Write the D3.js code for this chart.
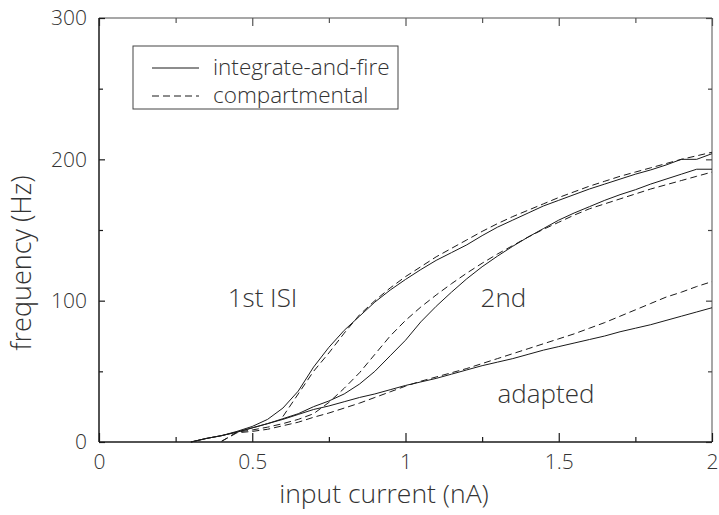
<!DOCTYPE html>
<html><head><meta charset="utf-8">
<script src="https://cdn.jsdelivr.net/npm/d3@7"></script>
<style>
html,body{margin:0;padding:0;background:#fff;}
svg{display:block;font-family:"Open Sans",Roboto,"Liberation Sans",sans-serif;font-weight:300;}
</style></head>
<body>
<svg id="chart" width="719" height="515"></svg>
<script>
// input current (nA)
const current = [0.3,0.35,0.4,0.45,0.5,0.55,0.6,0.65,0.7,0.75,0.8,0.85,0.9,0.95,1.0,1.05,1.1,1.15,1.2,1.25,1.3,1.35,1.4,1.45,1.5,1.55,1.6,1.65,1.7,1.75,1.8,1.85,1.9,1.95,2.0];
// integrate-and-fire model (solid)
const ifFirst   = [0,2.5,4.5,7.5,11,16,24,36,53,67,79,89,99,107.5,115,122,128.5,134,139.5,146,152,157,162,167,171,175,179,182.5,186,189.5,192.5,196,200,200,204];
const ifSecond  = [0,2.5,4.5,7,10,13,16.5,20,25,29,34,41,50,61,72,85,96,106,115.5,124,131.5,138.5,145,151,157,162,166.5,171,175,178.5,182.5,186,189.5,193,193];
const ifAdapted = [0,2.5,4.5,7,10,13,16,19.5,23,25.5,28.5,31.5,34,37,40,42.5,45,48,51,54,56.5,59,62,65,67.5,70,72.5,75,78,80.5,83,86,89,92,95];
// compartmental model (dashed)
const compFirst   = [null,null,null,null,null,null,18,34,50,63,77,90,100,109,117,124,131,137,143,149,154.5,159.5,164,168.5,173,177,181,184.5,188,191,194,197,200,202.5,205];
const compSecond  = [null,null,0.5,7,8.5,10.5,13,16,20,28,38,49,62,75,86,95.5,104,112,119.5,126.5,133,139,145,150.5,155.5,160.5,165,168.5,172,175.5,179,182,185,188,191];
const compAdapted = [null,null,0.5,6.5,7.5,9,11.5,14,17.5,20.5,24,27.5,31.5,35.5,39.5,43,46,49,52,55.5,59,62.5,66,69.5,73,76.5,80.5,84.5,89,93.5,98,102.5,106,110,113.5];

const xMajor = [0,0.5,1,1.5,2];
const xMinor = [0.25,0.75,1.25,1.75];
const yMajor = [0,100,200,300];
const yMinor = [50,150,250];
const legendLabels = ["integrate-and-fire","compartmental"];
const curveLabels = [
  {text:"1st ISI", x:0.42, y:95.5},
  {text:"2nd", x:1.245, y:95.5},
  {text:"adapted", x:1.3, y:27.5}
];

const svg = d3.select("#chart");
const x = d3.scaleLinear().domain([0,2]).range([99,712]);
const y = d3.scaleLinear().domain([0,300]).range([442,18]);
const ink = "#1a1a1a";
const txt = "#333";

// frame: top and right grey
svg.append("line").attr("x1",x(0)).attr("x2",x(2)).attr("y1",y(300)).attr("y2",y(300)).attr("stroke","#8a8a8a").attr("stroke-width",1.5);
svg.append("line").attr("x1",x(2)).attr("x2",x(2)).attr("y1",y(300)).attr("y2",y(0)).attr("stroke","#8a8a8a").attr("stroke-width",1.5);

function styleAxis(g, col){
  g.select(".domain").remove();
  g.selectAll(".tick line").attr("stroke",col).attr("stroke-width",1.2);
  g.selectAll(".tick text").attr("fill",txt).style("font-size","21px")
    .style("font-family","'Open Sans', Roboto, sans-serif").style("font-weight",300);
}

// bottom
svg.append("g").attr("transform",`translate(0,${y(0)})`)
  .call(d3.axisBottom(x).tickValues(xMajor).tickSize(-9).tickPadding(12).tickFormat(d=>d3.format("")(d)))
  .call(g=>styleAxis(g,ink));
svg.append("g").attr("transform",`translate(0,${y(0)})`)
  .call(d3.axisBottom(x).tickValues(xMinor).tickSize(-5).tickFormat(""))
  .call(g=>styleAxis(g,ink));
// top
svg.append("g").attr("transform",`translate(0,${y(300)})`)
  .call(d3.axisTop(x).tickValues(xMajor).tickSize(-8).tickFormat(""))
  .call(g=>styleAxis(g,"#555"));
svg.append("g").attr("transform",`translate(0,${y(300)})`)
  .call(d3.axisTop(x).tickValues(xMinor).tickSize(-5).tickFormat(""))
  .call(g=>styleAxis(g,"#555"));
// left
svg.append("g").attr("transform",`translate(${x(0)},0)`)
  .call(d3.axisLeft(y).tickValues(yMajor).tickSize(-6).tickPadding(12))
  .call(g=>styleAxis(g,ink));
svg.append("g").attr("transform",`translate(${x(0)},0)`)
  .call(d3.axisLeft(y).tickValues(yMinor).tickSize(-4).tickFormat(""))
  .call(g=>styleAxis(g,ink));
// right
svg.append("g").attr("transform",`translate(${x(2)},0)`)
  .call(d3.axisRight(y).tickValues(yMajor).tickSize(-6).tickFormat(""))
  .call(g=>styleAxis(g,"#444"));
svg.append("g").attr("transform",`translate(${x(2)},0)`)
  .call(d3.axisRight(y).tickValues(yMinor).tickSize(-4).tickFormat(""))
  .call(g=>styleAxis(g,"#444"));

// left & bottom frame dark
svg.append("line").attr("x1",x(0)).attr("x2",x(0)).attr("y1",y(300)).attr("y2",y(0)).attr("stroke",ink).attr("stroke-width",1.5);
svg.append("line").attr("x1",x(0)).attr("x2",x(2)).attr("y1",y(0)).attr("y2",y(0)).attr("stroke",ink).attr("stroke-width",1.5);

// curves
const line = d3.line().defined(d=>d[1]!=null).x(d=>x(d[0])).y(d=>y(d[1]));
const series = [
  {v:ifFirst, dash:null},{v:ifSecond, dash:null},{v:ifAdapted, dash:null},
  {v:compFirst, dash:"7,4"},{v:compSecond, dash:"7,4"},{v:compAdapted, dash:"7,4"}
];
series.forEach(s=>{
  svg.append("path").datum(current.map((c,i)=>[c,s.v[i]]))
    .attr("d",line).attr("fill","none").attr("stroke",ink).attr("stroke-width",1)
    .attr("stroke-dasharray",s.dash);
});

// curve labels
svg.selectAll("text.cl").data(curveLabels).enter().append("text").attr("class","cl")
  .attr("x",d=>x(d.x)).attr("y",d=>y(d.y)).text(d=>d.text)
  .attr("fill",txt).style("font-size","26px");

// legend
const lg = svg.append("g");
lg.append("rect").attr("x",133).attr("y",46).attr("width",265).attr("height",63)
  .attr("fill","#fff").attr("stroke","#444").attr("stroke-width",1);
legendLabels.forEach((t,i)=>{
  const ly = 68 + i*28;
  lg.append("line").attr("x1",152).attr("x2",199).attr("y1",ly).attr("y2",ly)
    .attr("stroke",ink).attr("stroke-width",1).attr("stroke-dasharray", i===1?"7,4":null);
  lg.append("text").attr("x",213).attr("y",ly+7).text(t).attr("fill",txt).style("font-size","22.5px");
});

// axis titles
svg.append("text").attr("x",384).attr("y",503).attr("text-anchor","middle")
  .text("input current (nA)").attr("fill",txt).style("font-size","26.5px");
svg.append("text").attr("transform",`translate(31,263) rotate(-90)`).attr("text-anchor","middle")
  .text("frequency (Hz)").attr("fill",txt).style("font-size","27px");
</script>
</body></html>
